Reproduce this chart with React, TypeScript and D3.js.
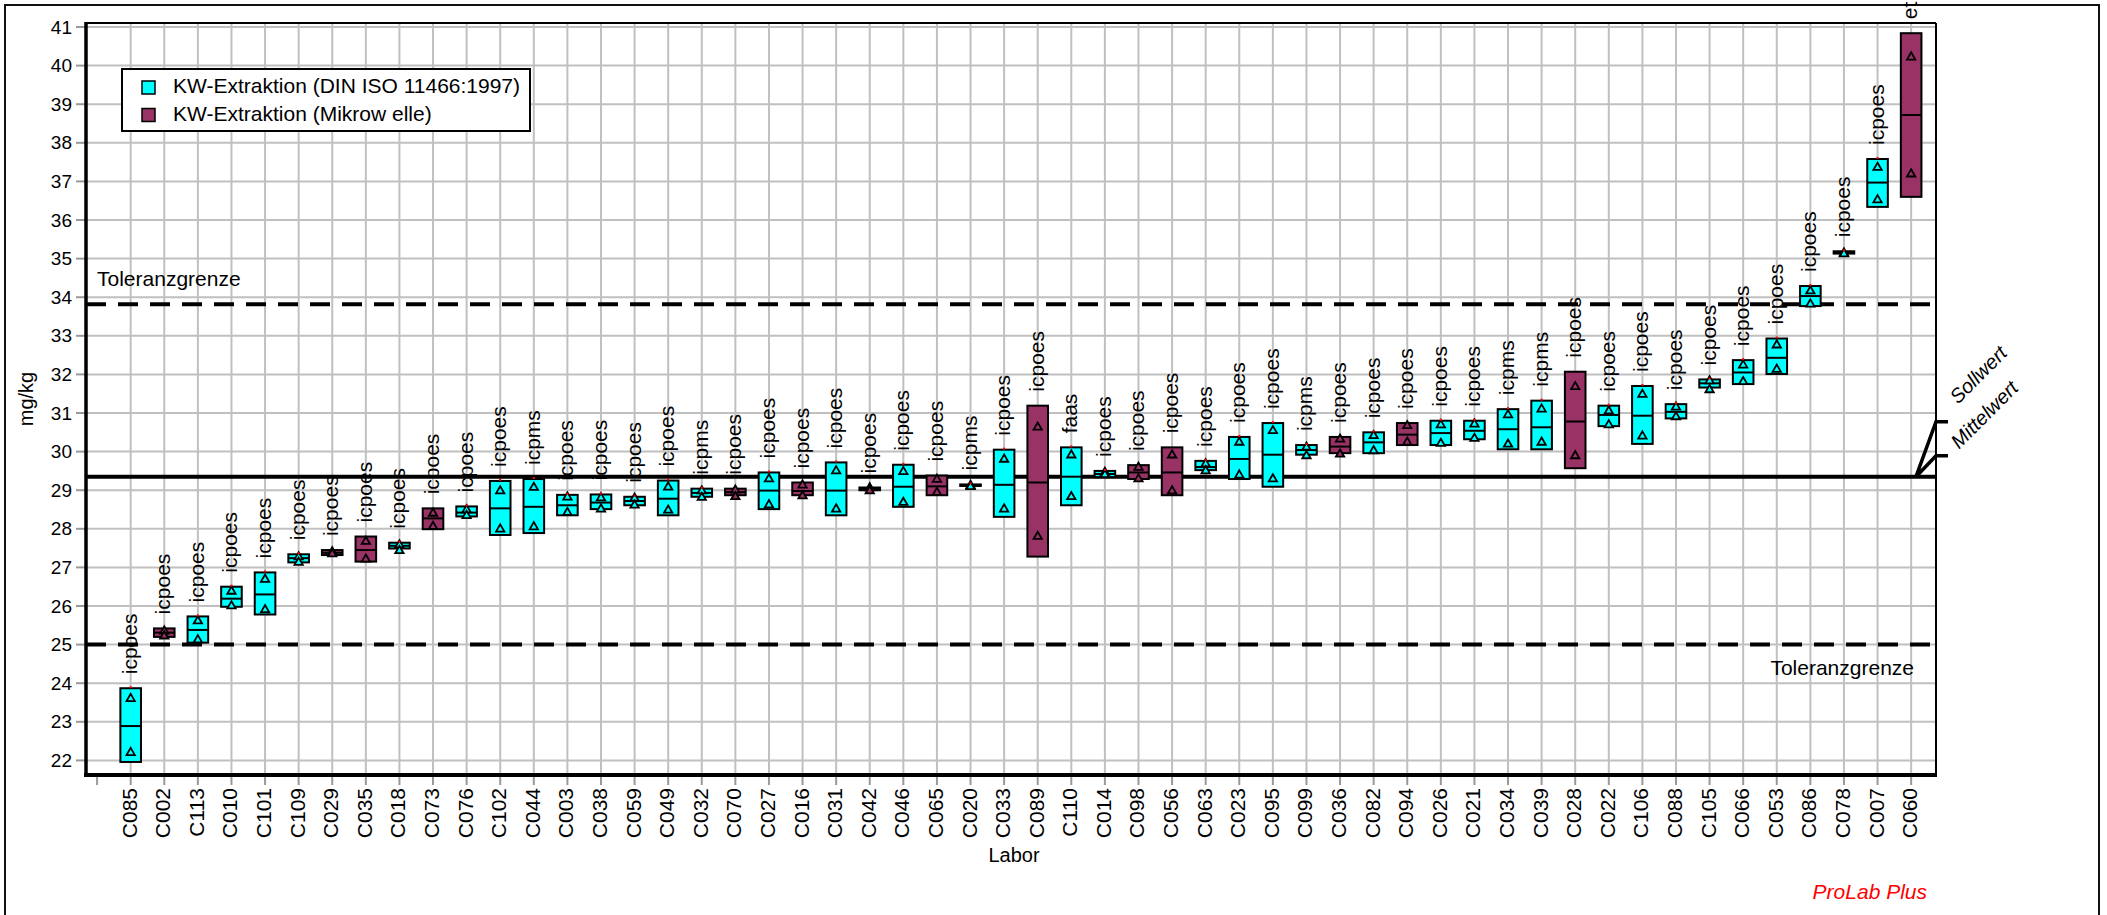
import { useEffect, useRef } from 'react';
import * as d3 from 'd3';

// labs sorted by their mean value
const labs = ['C085', 'C002', 'C113', 'C010', 'C101', 'C109', 'C029', 'C035', 'C018', 'C073', 'C076', 'C102', 'C044', 'C003', 'C038', 'C059', 'C049', 'C032', 'C070', 'C027', 'C016', 'C031', 'C042', 'C046', 'C065', 'C020', 'C033', 'C089', 'C110', 'C014', 'C098', 'C056', 'C063', 'C023', 'C095', 'C099', 'C036', 'C082', 'C094', 'C026', 'C021', 'C034', 'C039', 'C028', 'C022', 'C106', 'C088', 'C105', 'C066', 'C053', 'C086', 'C078', 'C007', 'C060'];
// 0 = DIN ISO 11466, 1 = Mikrowelle
const kind = [0, 1, 0, 0, 0, 0, 1, 1, 0, 1, 0, 0, 0, 0, 0, 0, 0, 0, 1, 0, 1, 0, 1, 0, 1, 0, 0, 1, 0, 0, 1, 1, 0, 0, 0, 0, 1, 0, 1, 0, 0, 0, 0, 1, 0, 0, 0, 0, 0, 0, 0, 0, 0, 1];
const methods = ['icpoes', 'icpoes', 'icpoes', 'icpoes', 'icpoes', 'icpoes', 'icpoes', 'icpoes', 'icpoes', 'icpoes', 'icpoes', 'icpoes', 'icpms', 'icpoes', 'icpoes', 'icpoes', 'icpoes', 'icpms', 'icpoes', 'icpoes', 'icpoes', 'icpoes', 'icpoes', 'icpoes', 'icpoes', 'icpms', 'icpoes', 'icpoes', 'faas', 'icpoes', 'icpoes', 'icpoes', 'icpoes', 'icpoes', 'icpoes', 'icpms', 'icpoes', 'icpoes', 'icpoes', 'icpoes', 'icpoes', 'icpms', 'icpms', 'icpoes', 'icpoes', 'icpoes', 'icpoes', 'icpoes', 'icpoes', 'icpoes', 'icpoes', 'icpoes', 'icpoes', 'et'];
const boxLow = [21.96, 25.2, 25.05, 25.98, 25.78, 27.13, 27.32, 27.15, 27.49, 27.99, 28.32, 27.84, 27.89, 28.35, 28.51, 28.61, 28.35, 28.83, 28.87, 28.51, 28.87, 28.35, 29.0, 28.57, 28.87, 29.11, 28.31, 27.28, 28.61, 29.34, 29.29, 28.87, 29.52, 29.29, 29.09, 29.92, 29.96, 29.96, 30.17, 30.17, 30.32, 30.06, 30.06, 29.57, 30.66, 30.2, 30.86, 31.66, 31.75, 32.01, 33.77, 35.13, 36.34, 36.6];
const boxHigh = [23.87, 25.42, 25.73, 26.5, 26.87, 27.34, 27.45, 27.8, 27.64, 28.53, 28.58, 29.24, 29.29, 28.88, 28.89, 28.83, 29.25, 29.04, 29.04, 29.46, 29.2, 29.72, 29.07, 29.66, 29.38, 29.15, 30.05, 31.19, 30.11, 29.5, 29.65, 30.11, 29.76, 30.38, 30.74, 30.17, 30.38, 30.5, 30.74, 30.8, 30.8, 31.1, 31.32, 32.07, 31.19, 31.7, 31.23, 31.87, 32.37, 32.93, 34.29, 35.19, 37.58, 40.84];
const centre = [22.89, 25.31, 25.38, 26.19, 26.3, 27.24, 27.38, 27.45, 27.56, 28.27, 28.42, 28.53, 28.57, 28.61, 28.68, 28.72, 28.78, 28.93, 28.95, 28.99, 28.98, 28.99, 29.04, 29.09, 29.1, 29.13, 29.14, 29.2, 29.35, 29.42, 29.46, 29.46, 29.6, 29.81, 29.92, 30.04, 30.13, 30.24, 30.44, 30.48, 30.54, 30.58, 30.63, 30.78, 30.95, 30.93, 31.03, 31.77, 32.05, 32.43, 34.03, 35.16, 36.97, 38.72];
const valueA = [23.6, 25.35, 25.61, 26.38, 26.69, 27.27, 27.4, 27.67, 27.58, 28.4, 28.49, 28.98, 29.07, 28.82, 28.8, 28.79, 29.08, 28.98, 29.0, 29.29, 29.13, 29.5, 29.06, 29.48, 29.28, 29.12, 29.8, 30.63, 29.91, 29.46, 29.59, 29.91, 29.68, 30.24, 30.54, 30.11, 30.32, 30.41, 30.67, 30.69, 30.71, 30.95, 31.1, 31.68, 31.05, 31.48, 31.15, 31.83, 32.24, 32.76, 34.16, 35.14, 37.36, 40.22];
const valueB = [22.2, 25.22, 25.12, 26.0, 25.9, 27.13, 27.35, 27.21, 27.43, 28.06, 28.34, 27.99, 28.05, 28.42, 28.51, 28.61, 28.48, 28.81, 28.83, 28.62, 28.85, 28.51, 28.98, 28.68, 28.94, 29.09, 28.51, 27.8, 28.83, 29.4, 29.29, 28.98, 29.5, 29.39, 29.29, 29.89, 29.93, 30.02, 30.24, 30.21, 30.34, 30.19, 30.24, 29.89, 30.69, 30.4, 30.9, 31.6, 31.81, 32.13, 33.82, 35.12, 36.52, 37.19];

const yTicks = [22, 23, 24, 25, 26, 27, 28, 29, 30, 31, 32, 33, 34, 35, 36, 37, 38, 39, 40, 41];
const meanValue = 29.35;
const tolUpper = 33.82;
const tolLower = 25.0;
const legendLabels = ['KW-Extraktion (DIN ISO 11466:1997)', 'KW-Extraktion (Mikrow elle)'];
const colors = ['#00ffff', '#993366'];

const FONT = '"Liberation Sans", Arial, sans-serif';

export default function App() {
  const ref = useRef<SVGSVGElement>(null);

  useEffect(() => {
    const svg = d3.select(ref.current);
    svg.selectAll('*').remove();

    const left = 86, right = 1936, top = 23, bottom = 775;
    const x = d3.scaleLinear().domain([-1.33, 53.74]).range([left, right]);
    const y = d3.scaleLinear().domain([21.622, 41.104]).range([bottom, top]);
    const idx = labs.map((_, i) => i);

    svg.append('rect').attr('x', 0).attr('y', 0).attr('width', 2107).attr('height', 915).attr('fill', '#fff');
    svg.append('rect')
      .attr('x', 5).attr('y', 5).attr('width', 2094).attr('height', 930)
      .attr('fill', 'none').attr('stroke', '#111').attr('stroke-width', 2);

    // grid
    svg.append('g').selectAll('line').data(yTicks).join('line')
      .attr('x1', left).attr('x2', right)
      .attr('y1', d => y(d)).attr('y2', d => y(d))
      .attr('stroke', '#c0c0c0').attr('stroke-width', 2);
    svg.append('g').selectAll('line').data(idx).join('line')
      .attr('x1', d => x(d)).attr('x2', d => x(d))
      .attr('y1', top).attr('y2', bottom)
      .attr('stroke', '#c0c0c0').attr('stroke-width', 2);

    // tick marks
    svg.append('g').selectAll('line').data(yTicks).join('line')
      .attr('x1', 76).attr('x2', left)
      .attr('y1', d => y(d)).attr('y2', d => y(d))
      .attr('stroke', '#999').attr('stroke-width', 2);
    svg.append('g').selectAll('line').data([-1, ...idx]).join('line')
      .attr('x1', d => x(d)).attr('x2', d => x(d))
      .attr('y1', bottom).attr('y2', bottom + 10)
      .attr('stroke', '#999').attr('stroke-width', 2);

    // tolerance + mean lines
    [tolUpper, tolLower].forEach(v => {
      svg.append('line')
        .attr('x1', left).attr('x2', right - 6)
        .attr('y1', y(v)).attr('y2', y(v))
        .attr('stroke', '#000').attr('stroke-width', 4)
        .attr('stroke-dasharray', '20,12');
    });
    svg.append('line')
      .attr('x1', left).attr('x2', right)
      .attr('y1', y(meanValue)).attr('y2', y(meanValue))
      .attr('stroke', '#000').attr('stroke-width', 4);

    // boxes
    const bw = 20.6;
    const tri = d3.symbol().type(d3.symbolTriangle).size(30);
    const boxes = svg.append('g').selectAll('g').data(idx).join('g');
    boxes.append('rect')
      .attr('x', d => x(d) - bw / 2)
      .attr('y', d => y(boxHigh[d]))
      .attr('width', bw)
      .attr('height', d => Math.max(y(boxLow[d]) - y(boxHigh[d]), 1))
      .attr('fill', d => colors[kind[d]])
      .attr('stroke', '#000').attr('stroke-width', 2);
    boxes.append('line')
      .attr('x1', d => x(d) - bw / 2).attr('x2', d => x(d) + bw / 2)
      .attr('y1', d => y(centre[d])).attr('y2', d => y(centre[d]))
      .attr('stroke', '#000').attr('stroke-width', 2);
    [valueA, valueB].forEach(vals => {
      boxes.append('path')
        .attr('d', tri)
        .attr('transform', d => `translate(${x(d)},${y(vals[d])})`)
        .attr('fill', d => colors[kind[d]])
        .attr('stroke', '#000').attr('stroke-width', 1.8);
    });
    boxes.filter(d => kind[d] === 0).append('rect')
      .attr('x', d => x(d) - 1).attr('y', d => y(boxHigh[d]) - 2)
      .attr('width', 2).attr('height', 2).attr('fill', '#ff0000');

    // method labels
    svg.append('g').selectAll('text').data(idx).join('text')
      .attr('transform', d => `translate(${x(d) + 6},${y(boxHigh[d]) - 14}) rotate(-90)`)
      .attr('font-family', FONT).attr('font-size', 21)
      .text(d => methods[d]);

    // frame / axes
    svg.append('line').attr('x1', left).attr('x2', right).attr('y1', top).attr('y2', top)
      .attr('stroke', '#000').attr('stroke-width', 2);
    svg.append('line').attr('x1', right).attr('x2', right).attr('y1', top).attr('y2', bottom)
      .attr('stroke', '#000').attr('stroke-width', 2);
    svg.append('line').attr('x1', left).attr('x2', left).attr('y1', top - 1).attr('y2', bottom + 2)
      .attr('stroke', '#000').attr('stroke-width', 3.5);
    svg.append('line').attr('x1', left - 2).attr('x2', right + 1).attr('y1', bottom).attr('y2', bottom)
      .attr('stroke', '#000').attr('stroke-width', 4);

    // tick labels
    svg.append('g').selectAll('text').data(yTicks).join('text')
      .attr('x', 72).attr('y', d => y(d) + 6.5)
      .attr('text-anchor', 'end')
      .attr('font-family', FONT).attr('font-size', 19)
      .text(d => d);
    svg.append('g').selectAll('text').data(idx).join('text')
      .attr('transform', d => `translate(${x(d) + 6},${bottom + 13}) rotate(-90)`)
      .attr('text-anchor', 'end')
      .attr('font-family', FONT).attr('font-size', 21)
      .text(d => labs[d]);

    // axis titles
    svg.append('text').attr('x', (left + right) / 2 + 3).attr('y', 862)
      .attr('text-anchor', 'middle').attr('font-family', FONT).attr('font-size', 20)
      .text('Labor');
    svg.append('text').attr('transform', `translate(33,${(top + bottom) / 2}) rotate(-90)`)
      .attr('text-anchor', 'middle').attr('font-family', FONT).attr('font-size', 20)
      .text('mg/kg');

    // tolerance labels
    svg.append('text').attr('x', 97).attr('y', y(tolUpper) - 18)
      .attr('font-family', FONT).attr('font-size', 21).text('Toleranzgrenze');
    svg.append('text').attr('x', 1914).attr('y', y(tolLower) + 30)
      .attr('text-anchor', 'end')
      .attr('font-family', FONT).attr('font-size', 21).text('Toleranzgrenze');

    // Sollwert / Mittelwert markers
    const my = y(meanValue);
    const mx = right - 20;
    svg.append('path')
      .attr('d', `M${mx},${my}L${right},${my - 55}L${right + 12},${my - 55}M${mx},${my}L${right},${my - 21}L${right + 12},${my - 21}`)
      .attr('fill', 'none').attr('stroke', '#000').attr('stroke-width', 3.5);
    svg.append('text').attr('transform', `translate(1958,${my - 72}) rotate(-45)`)
      .attr('font-family', FONT).attr('font-size', 20).attr('font-style', 'italic')
      .text('Sollwert');
    svg.append('text').attr('transform', `translate(1959,${my - 27}) rotate(-45)`)
      .attr('font-family', FONT).attr('font-size', 20).attr('font-style', 'italic')
      .text('Mittelwert');

    // legend
    const lg = svg.append('g');
    lg.append('rect').attr('x', 122).attr('y', 69).attr('width', 408).attr('height', 62)
      .attr('fill', '#fff').attr('stroke', '#000').attr('stroke-width', 2);
    legendLabels.forEach((t, i) => {
      lg.append('rect').attr('x', 142).attr('y', 81 + i * 27.5).attr('width', 13).attr('height', 13)
        .attr('fill', colors[i]).attr('stroke', '#000').attr('stroke-width', 1.5);
      lg.append('text').attr('x', 173).attr('y', 93 + i * 27.5)
        .attr('font-family', FONT).attr('font-size', 21).text(t);
    });

    svg.append('text').attr('x', 1927).attr('y', 899)
      .attr('text-anchor', 'end').attr('font-family', FONT).attr('font-size', 21)
      .attr('font-style', 'italic').attr('fill', '#ff0000')
      .text('ProLab Plus');
  }, []);

  return (
    <svg ref={ref} width={2107} height={915}
      style={{ position: 'absolute', left: 0, top: 0, display: 'block' }} />
  );
}
